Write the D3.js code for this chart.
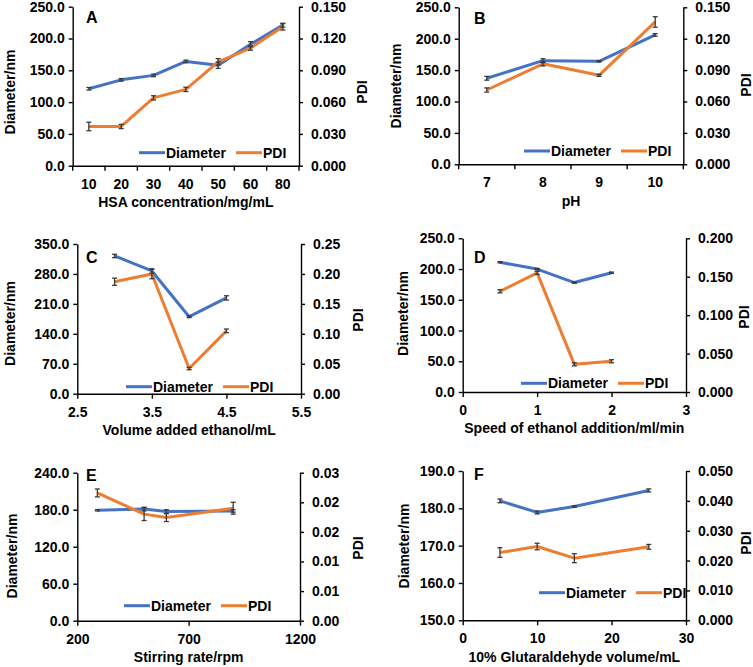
<!DOCTYPE html>
<html>
<head>
<meta charset="utf-8">
<script src="https://cdn.jsdelivr.net/npm/d3@7/dist/d3.min.js"></script>
<style>
  html, body { margin: 0; padding: 0; background: #fff; }
  svg { display: block; font-family: "Liberation Sans", Arial, sans-serif; font-weight: bold; }
</style>
</head>
<body>
<svg id="chart" width="753" height="667"></svg>
<script>
// ---------------- DATA ----------------
const seriesNames = ["Diameter", "PDI"];

// Panel A
const xA = ["10", "20", "30", "40", "50", "60", "80"];
const diamA = [121, 135, 142, 164, 158, 191, 221];
const diamErrA = [2, 2, 2, 2, 5, 4, 3];
const pdiA = [0.037, 0.037, 0.064, 0.072, 0.098, 0.111, 0.131];
const pdiErrA = [0.004, 0.002, 0.002, 0.002, 0.003, 0.002, 0.003];

// Panel B
const xB = ["7", "8", "9", "10"];
const diamB = [137, 165, 164, 206];
const diamErrB = [3, 3, 1, 2];
const pdiB = [0.071, 0.096, 0.085, 0.136];
const pdiErrB = [0.002, 0.002, 0.001, 0.005];

// Panel C
const xC = [3, 3.5, 4, 4.5];
const diamC = [322, 287, 180, 224];
const diamErrC = [4, 5, 2, 5];
const pdiC = [0.187, 0.200, 0.042, 0.105];
const pdiErrC = [0.006, 0.008, 0.002, 0.003];

// Panel D
const xD = [0.5, 1, 1.5, 2];
const diamD = [211, 200, 178, 194];
const diamErrD = [1, 1, 1, 1];
const pdiD = [0.131, 0.155, 0.036, 0.040];
const pdiErrD = [0.002, 0.002, 0.002, 0.002];

// Panel E
const xE = [290, 500, 600, 900];
const diamE = [179, 181, 177, 178];
const diamErrE = [1, 3, 3, 2];
const pdiE = [0.0259, 0.0216, 0.0209, 0.0228];
const pdiErrE = [0.0008, 0.0013, 0.0008, 0.0012];

// Panel F
const xF = [5, 10, 15, 25];
const diamF = [182.0, 178.9, 180.5, 184.8];
const diamErrF = [0.5, 0.4, 0.2, 0.4];
const pdiF = [0.0227, 0.0247, 0.0208, 0.0246];
const pdiErrF = [0.0016, 0.0011, 0.0015, 0.0008];

// Axis ticks
const xTicksC = [2.5, 3.5, 4.5, 5.5];
const xTicksD = [0, 1, 2, 3];
const xTicksE = [200, 700, 1200];
const xTicksF = [0, 10, 20, 30];

const yLTicksA = [0, 50, 100, 150, 200, 250];
const yRTicksA = [0, 0.03, 0.06, 0.09, 0.12, 0.15];
const yLTicksB = [0, 50, 100, 150, 200, 250];
const yRTicksB = [0, 0.03, 0.06, 0.09, 0.12, 0.15];
const yLTicksC = [0, 70, 140, 210, 280, 350];
const yRTicksC = [0, 0.05, 0.10, 0.15, 0.20, 0.25];
const yLTicksD = [0, 50, 100, 150, 200, 250];
const yRTicksD = [0, 0.05, 0.10, 0.15, 0.20];
const yLTicksE = [0, 60, 120, 180, 240];
const yRTicksE = [0, 0.006, 0.012, 0.018, 0.024, 0.030];
const yLTicksF = [150, 160, 170, 180, 190];
const yRTicksF = [0, 0.01, 0.02, 0.03, 0.04, 0.05];

const xTitles = ["HSA concentration/mg/mL", "pH", "Volume added ethanol/mL",
                 "Speed of ethanol addition/ml/min", "Stirring rate/rpm", "10% Glutaraldehyde volume/mL"];
const panelLetters = ["A", "B", "C", "D", "E", "F"];
const yLeftTitle = "Diameter/nm";
const yRightTitle = "PDI";

// ---------------- LAYOUT / STYLE ----------------
const BLUE = "#4472C4", ORANGE = "#ED7D31", ERR = "#3a3a3a";

const panels = [
  { letter: 0, x: xA, band: true, diam: diamA, dErr: diamErrA, pdi: pdiA, pErr: pdiErrA,
    yL: [0, 250], yR: [0, 0.15], yLT: yLTicksA, yRT: yRTicksA, fL: ".1f", fR: ".3f",
    l: 72.7, r: 299, t: 6.7, b: 165.7, yTitleX: 10, yTitleY: 92, pTitleX: 362, pTitleY: 92,
    legX: 139, legY: 152.7, letX: 86, letY: 23 },
  { letter: 1, x: xB, band: true, diam: diamB, dErr: diamErrB, pdi: pdiB, pErr: pdiErrB,
    yL: [0, 250], yR: [0, 0.15], yLT: yLTicksB, yRT: yRTicksB, fL: ".1f", fR: ".3f",
    l: 458.7, r: 683.3, t: 7.3, b: 164.3, yTitleX: 396, yTitleY: 86, pTitleX: 746, pTitleY: 85,
    legX: 524, legY: 151, letX: 474, letY: 24 },
  { letter: 2, x: xC, xd: [2.5, 5.5], xt: xTicksC, fX: ".1f", diam: diamC, dErr: diamErrC, pdi: pdiC, pErr: pdiErrC,
    yL: [0, 350], yR: [0, 0.25], yLT: yLTicksC, yRT: yRTicksC, fL: ".1f", fR: ".2f",
    l: 77.3, r: 301, t: 244, b: 393.7, yTitleX: 10, yTitleY: 323.5, pTitleX: 358, pTitleY: 320,
    legX: 126, legY: 386.7, letX: 86, letY: 263 },
  { letter: 3, x: xD, xd: [0, 3], xt: xTicksD, fX: "d", diam: diamD, dErr: diamErrD, pdi: pdiD, pErr: pdiErrD,
    yL: [0, 250], yR: [0, 0.2], yLT: yLTicksD, yRT: yRTicksD, fL: ".1f", fR: ".3f",
    l: 462.7, r: 686, t: 238.3, b: 392, yTitleX: 403, yTitleY: 313.5, pTitleX: 744, pTitleY: 317,
    legX: 521, legY: 383.3, letX: 474, letY: 263 },
  { letter: 4, x: xE, xd: [200, 1200], xt: xTicksE, fX: "d", diam: diamE, dErr: diamErrE, pdi: pdiE, pErr: pdiErrE,
    yL: [0, 240], yR: [0, 0.03], yLT: yLTicksE, yRT: yRTicksE, fL: ".1f", fR: ".2f",
    l: 77.3, r: 300, t: 472.7, b: 620.7, yTitleX: 12, yTitleY: 556, pTitleX: 358, pTitleY: 548,
    legX: 124, legY: 605.7, letX: 86, letY: 481 },
  { letter: 5, x: xF, xd: [0, 30], xt: xTicksF, fX: "d", diam: diamF, dErr: diamErrF, pdi: pdiF, pErr: pdiErrF,
    yL: [150, 190], yR: [0, 0.05], yLT: yLTicksF, yRT: yRTicksF, fL: ".1f", fR: ".3f",
    l: 462.7, r: 686, t: 471, b: 620.3, yTitleX: 404, yTitleY: 546, pTitleX: 746, pTitleY: 543,
    legX: 539, legY: 592.7, letX: 474, letY: 480 }
];

const svg = d3.select("#chart");

function styleAxis(g) {
  g.selectAll(".domain").attr("stroke", "#000").attr("stroke-width", 1.4);
  g.selectAll(".tick line").attr("stroke", "#000").attr("stroke-width", 1.4);
  g.selectAll(".tick text").attr("fill", "#000").attr("font-size", 14)
    .attr("font-family", "Liberation Sans, Arial, sans-serif").attr("font-weight", "bold");
}

panels.forEach(p => {
  const g = svg.append("g");
  let x, xPos;
  if (p.band) {
    x = d3.scaleBand().domain(p.x).range([p.l, p.r]);
    xPos = d => x(d) + x.bandwidth() / 2;
  } else {
    x = d3.scaleLinear().domain(p.xd).range([p.l, p.r]);
    xPos = d => x(d);
  }
  const yL = d3.scaleLinear().domain(p.yL).range([p.b, p.t]);
  const yR = d3.scaleLinear().domain(p.yR).range([p.b, p.t]);

  // X axis
  const gx = g.append("g").attr("transform", `translate(0,${p.b})`);
  if (p.band) {
    gx.call(d3.axisBottom(x).tickSize(0).tickSizeOuter(0).tickPadding(13));
    // boundary tick marks
    const bounds = p.x.map(c => x(c)).concat([x.range()[1]]);
    gx.selectAll(".btick").data(bounds).join("line")
      .attr("x1", d => d).attr("x2", d => d).attr("y1", 0).attr("y2", 5)
      .attr("stroke", "#000").attr("stroke-width", 1.4);
  } else {
    gx.call(d3.axisBottom(x).tickValues(p.xt).tickFormat(d3.format(p.fX)).tickSize(5).tickSizeOuter(0).tickPadding(8));
  }
  styleAxis(gx);

  // Left axis
  const gl = g.append("g").attr("transform", `translate(${p.l},0)`)
    .call(d3.axisLeft(yL).tickValues(p.yLT).tickFormat(d3.format(p.fL)).tickSize(4).tickSizeOuter(0).tickPadding(4));
  styleAxis(gl);

  // Right axis
  const gr = g.append("g").attr("transform", `translate(${p.r},0)`)
    .call(d3.axisRight(yR).tickValues(p.yRT).tickFormat(d3.format(p.fR)).tickSize(4).tickSizeOuter(0).tickPadding(8));
  styleAxis(gr);

  // Lines
  const dData = p.x.map((xv, i) => ({ x: xv, v: p.diam[i], e: p.dErr[i] }));
  const pData = p.x.map((xv, i) => ({ x: xv, v: p.pdi[i], e: p.pErr[i] }));
  g.append("path").datum(dData)
    .attr("d", d3.line().x(d => xPos(d.x)).y(d => yL(d.v)))
    .attr("fill", "none").attr("stroke", BLUE).attr("stroke-width", 3).attr("stroke-linejoin", "round");
  g.append("path").datum(pData)
    .attr("d", d3.line().x(d => xPos(d.x)).y(d => yR(d.v)))
    .attr("fill", "none").attr("stroke", ORANGE).attr("stroke-width", 3).attr("stroke-linejoin", "round");

  // Error bars
  function errBars(data, y) {
    const eg = g.append("g").attr("stroke", ERR).attr("stroke-width", 1.3);
    data.forEach(d => {
      const cx = xPos(d.x), y1 = y(d.v - d.e), y2 = y(d.v + d.e);
      eg.append("line").attr("x1", cx).attr("x2", cx).attr("y1", y1).attr("y2", y2);
      eg.append("line").attr("x1", cx - 2.5).attr("x2", cx + 2.5).attr("y1", y1).attr("y2", y1);
      eg.append("line").attr("x1", cx - 2.5).attr("x2", cx + 2.5).attr("y1", y2).attr("y2", y2);
    });
  }
  errBars(dData, yL);
  errBars(pData, yR);

  // Titles
  g.append("text").attr("x", (p.l + p.r) / 2).attr("y", p.b + 36.5).attr("dy", "0.35em")
    .attr("text-anchor", "middle").attr("font-size", 14).text(xTitles[p.letter]);
  g.append("text").attr("transform", `translate(${p.yTitleX},${p.yTitleY}) rotate(-90)`)
    .attr("dy", "0.35em").attr("text-anchor", "middle").attr("font-size", 14).text(yLeftTitle);
  g.append("text").attr("transform", `translate(${p.pTitleX},${p.pTitleY}) rotate(-90)`)
    .attr("dy", "0.35em").attr("text-anchor", "middle").attr("font-size", 14).text(yRightTitle);

  // Panel letter
  g.append("text").attr("x", p.letX).attr("y", p.letY).attr("font-size", 16).text(panelLetters[p.letter]);

  // Legend
  const lg = g.append("g").attr("transform", `translate(${p.legX},${p.legY})`);
  const legItems = [{ name: seriesNames[0], color: BLUE, dx: 0 }, { name: seriesNames[1], color: ORANGE, dx: 97 }];
  legItems.forEach(it => {
    lg.append("line").attr("x1", it.dx).attr("x2", it.dx + 26).attr("y1", 0).attr("y2", 0)
      .attr("stroke", it.color).attr("stroke-width", 3);
    lg.append("text").attr("x", it.dx + 27).attr("y", 0).attr("dy", "0.35em")
      .attr("font-size", 14).text(it.name);
  });
});
</script>
</body>
</html>
